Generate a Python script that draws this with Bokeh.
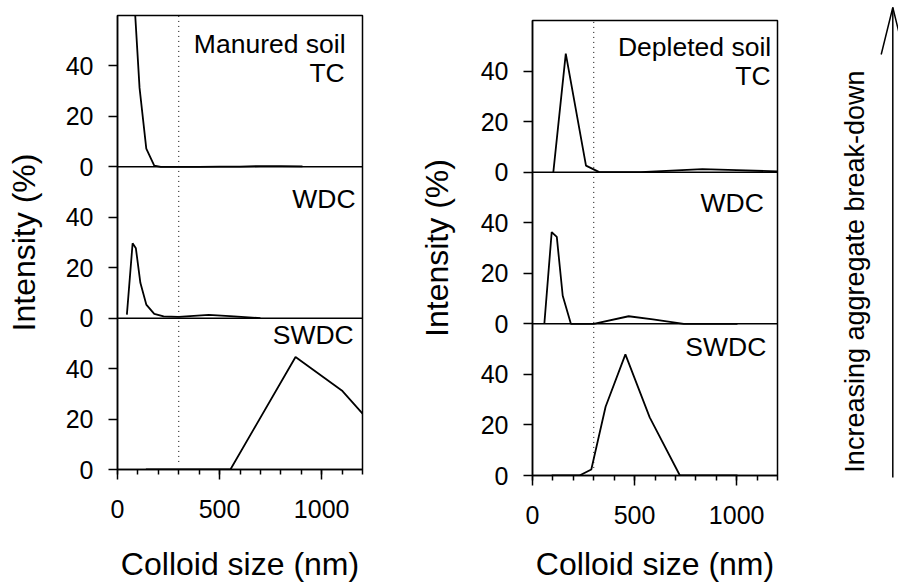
import numpy as np
from bokeh.plotting import figure
from bokeh.models import ColumnDataSource, Range1d, FixedTicker, Span, Label
from bokeh.transform import dodge
from bokeh.layouts import row
from bokeh.embed import file_html
from bokeh.resources import INLINE
from bokeh.core.properties import value

FONT = "Liberation Sans"

# ---------------- data ----------------
size_range = [0, 1200]
size_major_ticks = [0, 500, 1000]
size_minor_ticks = [0, 100, 200, 300, 400, 500, 600, 700, 800, 900, 1000, 1100, 1200]
intensity_ticks = [0, 20, 40]
panel_span = 60                       # each panel shows 0-60 %
fractions = ["SWDC", "WDC", "TC"]     # bottom -> top
threshold_nm = 300
threshold_floor = 3

# Manured soil
manured_tc_size = [78, 108, 141, 180, 212, 300, 400, 500, 600, 700, 800, 906]
manured_tc_int = [72, 31.3, 7.2, 0.5, 0, 0, 0, 0.1, 0.1, 0.3, 0.3, 0.2]
manured_wdc_size = [46, 74, 90, 112, 141, 180, 226, 300, 447, 570, 700]
manured_wdc_int = [1.4, 29.7, 27.7, 14, 5.4, 1.7, 0.7, 0.5, 1.3, 0.7, 0]
manured_swdc_size = [139, 200, 300, 400, 553, 872, 1102, 1290]
manured_swdc_int = [0, 0, 0, 0, 0, 44.6, 31.1, 14]

# Depleted soil
depleted_tc_size = [102, 163, 262, 327, 530, 832, 1000, 1200]
depleted_tc_int = [0, 46.9, 2.6, 0, 0, 1.2, 0.8, 0.3]
depleted_wdc_size = [58, 94, 119, 148, 188, 300, 471, 590, 741, 1004]
depleted_wdc_int = [0, 36.3, 34.4, 11.1, 0, 0, 3.0, 1.8, 0, 0]
depleted_swdc_size = [94, 230, 288, 358, 455, 574, 722, 1004]
depleted_swdc_int = [0, 0, 2.4, 27.2, 47.9, 23, 0, 0]

x_title = "Colloid size (nm)"
y_title = "Intensity (%)"
arrow_text = "Increasing aggregate break-down"

H = 584


def make_column(width, borders, curves, labels, ylab_standoff, xlab_standoff):
    left, right, top, bottom = borders
    p = figure(width=width, height=H,
               x_range=Range1d(*size_range),
               y_range=Range1d(0, len(fractions) * panel_span),
               output_backend="svg", toolbar_location=None,
               min_border_left=left, min_border_right=right,
               min_border_top=top, min_border_bottom=bottom,
               frame_align=False)
    p.xgrid.visible = False
    p.ygrid.visible = False
    p.background_fill_color = "white"
    p.border_fill_color = "white"
    p.outline_line_color = "black"
    p.outline_line_width = 1.5
    p.outline_line_alpha = 1

    # panel separators
    for k in range(1, len(fractions)):
        p.add_layout(Span(location=k * panel_span, dimension="width",
                          line_color="black", line_width=1.5))

    # threshold dotted line
    p.segment(x0=[threshold_nm], y0=[threshold_floor], x1=[threshold_nm],
              y1=[len(fractions) * panel_span], line_color="black",
              line_width=1, line_dash="1 4")

    for k, frac in enumerate(fractions):
        xs, ys = curves[frac]
        src = ColumnDataSource(dict(x=xs, y=ys))
        p.line(x="x", y=dodge("y", k * panel_span, range=p.y_range), source=src,
               line_color="black", line_width=1.8)

    # y axis
    ticks, overrides = [], {}
    for k in range(len(fractions)):
        for t in intensity_ticks:
            ticks.append(k * panel_span + t)
            overrides[k * panel_span + t] = str(t)
    ya = p.yaxis[0]
    ya.ticker = FixedTicker(ticks=ticks, minor_ticks=[])
    ya.major_label_overrides = overrides
    ya.axis_label = y_title
    # x axis
    xa = p.xaxis[0]
    xa.ticker = FixedTicker(ticks=size_major_ticks, minor_ticks=size_minor_ticks)
    xa.axis_label = x_title
    for ax in (xa, ya):
        ax.axis_line_color = "black"
        ax.axis_line_width = 1.5
        ax.major_tick_line_color = "black"
        ax.major_tick_line_width = 1.5
        ax.minor_tick_line_color = "black"
        ax.minor_tick_line_width = 1.5
        ax.major_tick_in = 0
        ax.minor_tick_in = 0
        ax.major_label_text_font = FONT
        ax.major_label_text_font_size = "25px"
        ax.major_label_text_color = "black"
        ax.axis_label_text_font = FONT
        ax.axis_label_text_font_size = "32px"
        ax.axis_label_text_font_style = "normal"
        ax.axis_label_text_color = "black"
    ya.major_tick_out = 9
    ya.minor_tick_out = 0
    ya.major_label_standoff = 15
    ya.axis_label_standoff = ylab_standoff
    xa.major_tick_out = 10
    xa.minor_tick_out = 5
    xa.major_label_standoff = 20
    xa.axis_label_standoff = xlab_standoff

    for text, x, y in labels:
        p.add_layout(Label(x=x, y=y, text=text, text_align="right",
                           text_baseline="alphabetic", text_font=FONT,
                           text_font_size="26.5px", text_color="black"))
    return p


left = make_column(
    410, (117, 48, 15, 114),
    {"TC": (manured_tc_size, manured_tc_int),
     "WDC": (manured_wdc_size, manured_wdc_int),
     "SWDC": (manured_swdc_size, manured_swdc_int)},
    [("Manured soil", 1117, 168.8), ("TC", 1113, 157.4),
     ("WDC", 1166, 107.3), ("SWDC", 1157, 53.5)], 21, 25)

right = make_column(
    380, (122, 13, 20, 109),
    {"TC": (depleted_tc_size, depleted_tc_int),
     "WDC": (depleted_wdc_size, depleted_wdc_int),
     "SWDC": (depleted_swdc_size, depleted_swdc_int)},
    [("Depleted soil", 1169, 169.5), ("TC", 1166, 157.9),
     ("WDC", 1133, 107.8), ("SWDC", 1145, 50.8)], 23, 19)

# arrow panel (pixel-like coordinates)
pa = figure(width=108, height=H, x_range=Range1d(0, 108), y_range=Range1d(0, H),
            output_backend="svg", toolbar_location=None, min_border=0,
            x_axis_location=None, y_axis_location=None, frame_align=False)
pa.outline_line_color = None
pa.grid.visible = False
pa.segment(x0=[102.3], y0=[107], x1=[102.3], y1=[577], line_color="black", line_width=1.5)
pa.line(x=[90.7, 102.3, 113.9], y=[530, 577, 530], line_color="black", line_width=1.5)
pa.text(x=[64], y=[313], text=[arrow_text], angle=np.pi / 2, text_align="center",
        text_baseline="alphabetic", text_font=value(FONT), text_font_size="27px",
        text_color="black")

layout = row(left, right, pa)
open("out.html", "w").write(file_html(layout, INLINE))
